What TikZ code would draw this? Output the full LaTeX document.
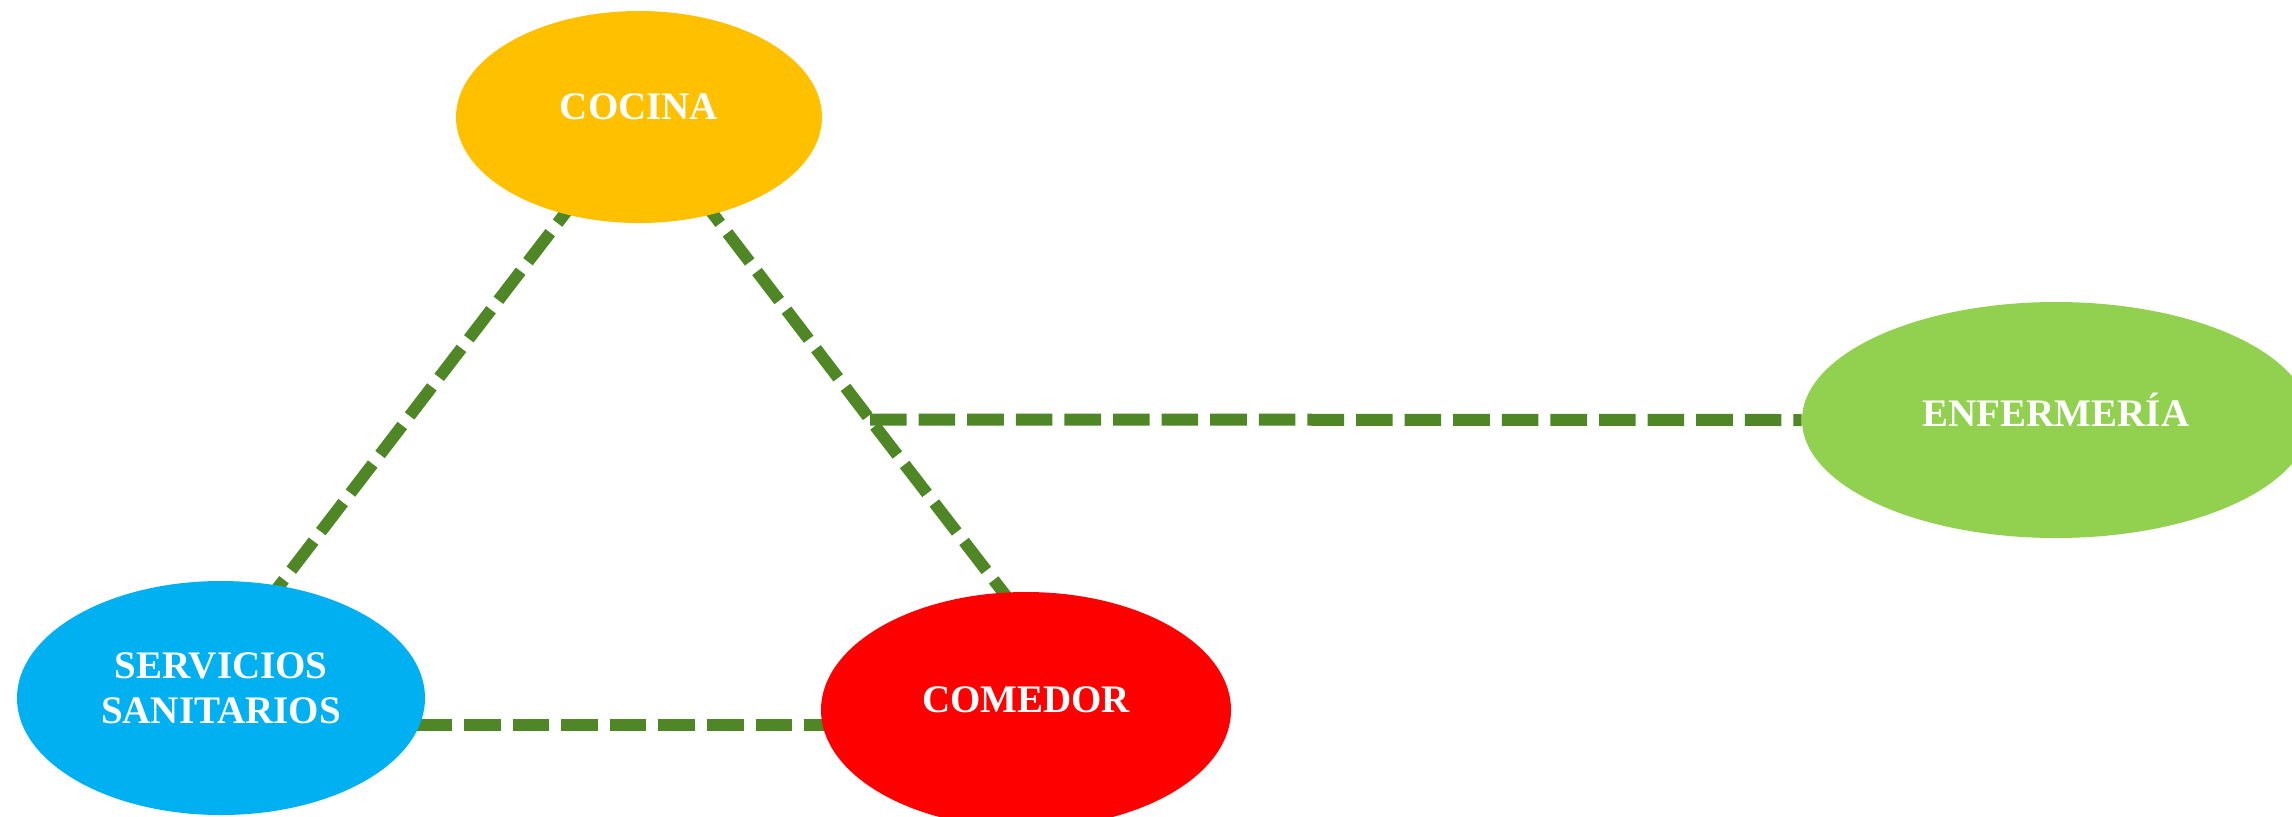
\documentclass[tikz,border=0pt]{standalone}
\usepackage{fontspec}
\setmainfont{Liberation Serif}
\usetikzlibrary{shapes.geometric,backgrounds}
\definecolor{lnk}{HTML}{4F8727}
\definecolor{cocinac}{HTML}{FFC000}
\definecolor{enfc}{HTML}{92D050}
\definecolor{servc}{HTML}{00B0F0}
\definecolor{comc}{HTML}{FF0000}
\begin{document}
\begin{tikzpicture}[x=0.5pt,y=-0.5pt,
  place/.style={ellipse,inner sep=0pt,draw=none},
  tag/.style={text=white,font=\bfseries\fontsize{19.5}{22.5}\selectfont,align=center,yshift=5pt},
  link/.style={draw=lnk,line width=6pt,dash pattern=on 18.3pt off 6pt}]
\useasboundingbox (0,0) rectangle (2292,816);
\clip (0,0) rectangle (2292,816);
\node[place,fill=cocinac,minimum width=183pt,minimum height=106pt,label={[tag]center:COCINA}] (cocina) at (639,117) {};
\node[place,fill=enfc,minimum width=254pt,minimum height=118pt,label={[tag]center:ENFERMERÍA}] (enf) at (2056,420) {};
\node[place,fill=servc,minimum width=204pt,minimum height=117pt,label={[tag]center:{SERVICIOS\\SANITARIOS}}] (serv) at (221,698) {};
\node[place,fill=comc,minimum width=205pt,minimum height=118pt,label={[tag]center:COMEDOR}] (comedor) at (1026,710) {};
\coordinate (j) at (870,419.5);
\coordinate (cm) at (1050,653);
\coordinate (sl) at (230,650);
\coordinate (low) at (0,725);
\begin{pgfonlayer}{background}
  \draw[link] (cocina.center) -- (j) -- (cm);
  \draw[link] (j) -- (enf.west);
  \draw[link] (cocina.center) -- (sl);
  \draw[link] (serv.center |- low) -- (comedor.center |- low);
\end{pgfonlayer}
\end{tikzpicture}
\end{document}
